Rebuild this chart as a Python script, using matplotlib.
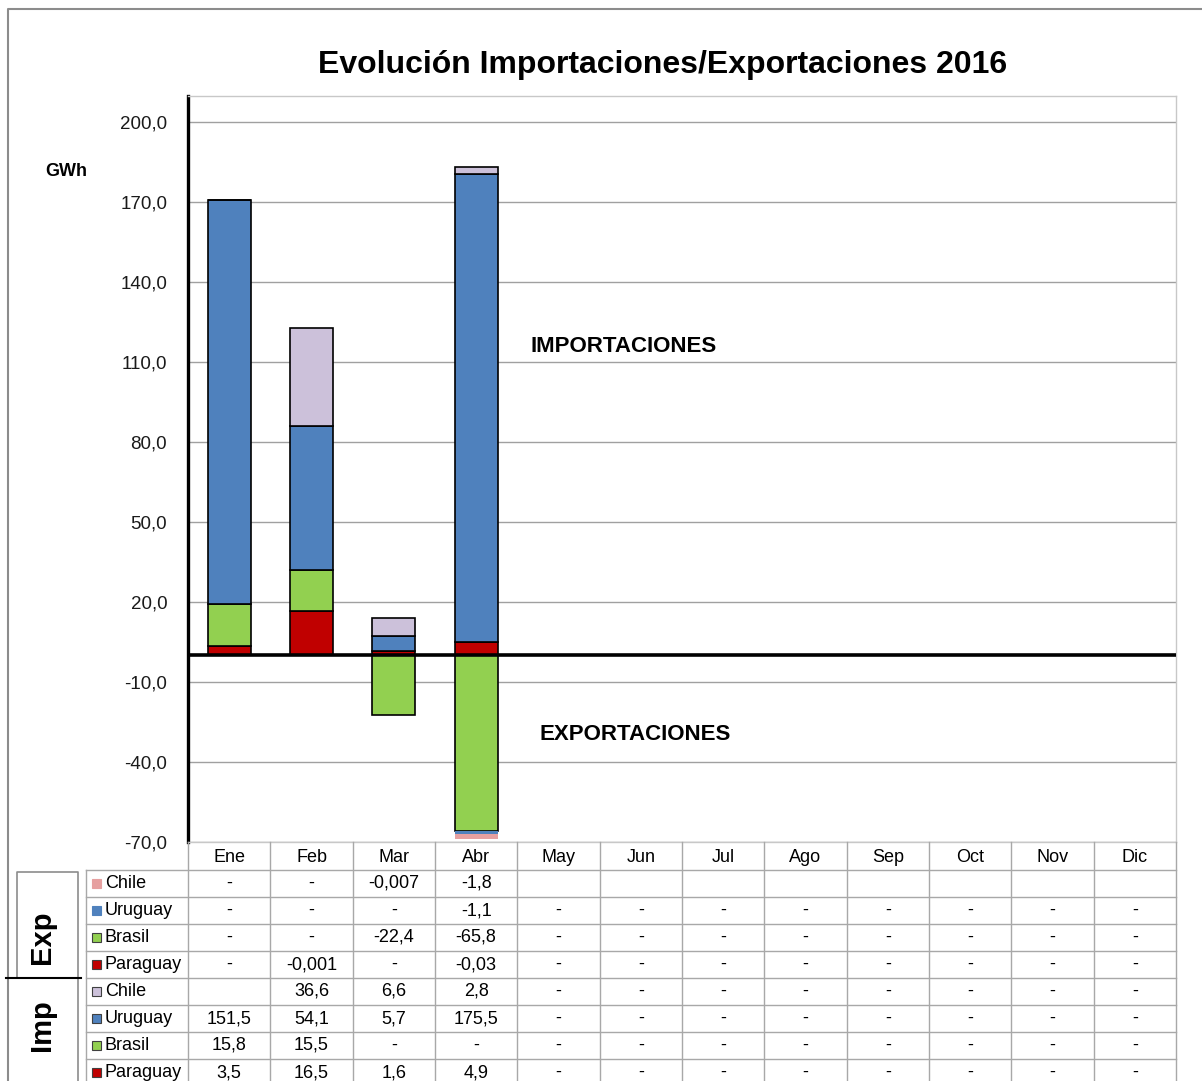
import matplotlib.pyplot as plt
import numpy as np

plt.rcParams['font.family'] = ['Liberation Sans', 'DejaVu Sans']

# datos (GWh)
meses = ["Ene", "Feb", "Mar", "Abr", "May", "Jun", "Jul", "Ago", "Sep", "Oct", "Nov", "Dic"]

# importaciones  (None = celda vacía, 0 = "-")
imp_paraguay = [3.5, 16.5, 1.6, 4.9, 0, 0, 0, 0, 0, 0, 0, 0]
imp_brasil = [15.8, 15.5, 0, 0, 0, 0, 0, 0, 0, 0, 0, 0]
imp_uruguay = [151.5, 54.1, 5.7, 175.5, 0, 0, 0, 0, 0, 0, 0, 0]
imp_chile = [None, 36.6, 6.6, 2.8, 0, 0, 0, 0, 0, 0, 0, 0]

# exportaciones
exp_paraguay = [0, -0.001, 0, -0.03, 0, 0, 0, 0, 0, 0, 0, 0]
exp_brasil = [0, 0, -22.4, -65.8, 0, 0, 0, 0, 0, 0, 0, 0]
exp_uruguay = [0, 0, 0, -1.1, 0, 0, 0, 0, 0, 0, 0, 0]
exp_chile = [0, 0, -0.007, -1.8, None, None, None, None, None, None, None, None]

# colores
c_par = "#C00000"
c_bra = "#92D050"
c_uru = "#4F81BD"
c_chi_imp = "#CCC1DA"
c_chi_exp = "#E6A0A0"

W, H = 1202, 1081
fig = plt.figure(figsize=(W / 100, H / 100), dpi=100)

# área del gráfico en pixeles
px_l, px_r, px_t, px_b = 188, 1176, 96, 842
ax = fig.add_axes([px_l / W, (H - px_b) / H, (px_r - px_l) / W, (px_b - px_t) / H])


def num(lst):
    return np.array([0 if v is None else v for v in lst], dtype=float)


x = np.arange(len(meses))
bw = 0.52
edge = dict(edgecolor="black", linewidth=1.2)

# importaciones apiladas hacia arriba
base = np.zeros(len(meses))
for vals, col in [(imp_paraguay, c_par), (imp_brasil, c_bra), (imp_uruguay, c_uru), (imp_chile, c_chi_imp)]:
    v = num(vals)
    ax.bar(x, v, bw, bottom=base, color=col, zorder=3, **edge)
    base += v

# exportaciones apiladas hacia abajo
base = np.zeros(len(meses))
for vals, col, e in [(exp_paraguay, c_par, True), (exp_brasil, c_bra, True),
                     (exp_uruguay, c_uru, False), (exp_chile, c_chi_exp, False)]:
    v = num(vals)
    if e:
        ax.bar(x, v, bw, bottom=base, color=col, zorder=3, **edge)
    else:
        ax.bar(x, v, bw, bottom=base, color=col, zorder=3, linewidth=0)
    base += v

ticks = np.arange(-70, 201, 30)
ax.set_xlim(-0.5, 11.5)
ax.set_ylim(-70, 209.75)
ax.set_yticks(ticks)
ax.set_yticklabels([f"{t:.1f}".replace(".", ",") for t in ticks], fontsize=13.5, color="#1a1a1a")
ax.tick_params(axis="y", length=0, pad=15)
ax.set_xticks([])
ax.grid(axis="y", color="#A0A0A0", linewidth=1, zorder=0)
ax.axhline(0, color="black", linewidth=2.6, zorder=4)
for s in ["top", "right", "bottom"]:
    ax.spines[s].set_color("#C8C8C8")
    ax.spines[s].set_linewidth(1)
ax.spines["left"].set_color("black")
ax.spines["left"].set_linewidth(2.4)

# capa superior en pixeles para tabla y textos
ov = fig.add_axes([0, 0, 1, 1], zorder=5)
ov.set_xlim(0, W)
ov.set_ylim(H, 0)
ov.axis("off")

# marco exterior
ov.plot([8, 8, W], [H, 9, 9], color="#8C8C8C", linewidth=1.5)

ov.text(663, 65, "Evolución Importaciones/Exportaciones 2016", ha="center", va="center",
        fontsize=23, fontweight="bold")
ov.text(66, 172, "GWh", ha="center", va="center", fontsize=13, fontweight="bold")
ov.text(624, 347, "IMPORTACIONES", ha="center", va="center", fontsize=16, fontweight="bold")
ov.text(635, 735, "EXPORTACIONES", ha="center", va="center", fontsize=16, fontweight="bold")

# tabla de datos
grid_c = "#A8A8A8"
fs = 13
col_w = (px_r - px_l) / 12
row_h = 27
hdr_t, hdr_b = 842, 870
rows = [("Chile", exp_chile, c_chi_exp, False), ("Uruguay", exp_uruguay, c_uru, False),
        ("Brasil", exp_brasil, c_bra, True), ("Paraguay", exp_paraguay, c_par, True),
        ("Chile", imp_chile, c_chi_imp, True), ("Uruguay", imp_uruguay, c_uru, True),
        ("Brasil", imp_brasil, c_bra, True), ("Paraguay", imp_paraguay, c_par, True)]

for i in range(13):
    xx = px_l + i * col_w
    ov.plot([xx, xx], [hdr_t, H], color=grid_c, linewidth=1)
for i, m in enumerate(meses):
    ov.text(px_l + (i + 0.5) * col_w, (hdr_t + hdr_b) / 2 + 1, m, ha="center", va="center", fontsize=fs)

ov.plot([86, 86], [hdr_b, H], color=grid_c, linewidth=1)
for r in range(len(rows) + 1):
    yy = hdr_b + r * row_h
    ov.plot([86, px_r], [yy, yy], color=grid_c, linewidth=1)


def fmt(v):
    if v is None:
        return ""
    if v == 0:
        return "-"
    return f"{v:g}".replace(".", ",")


for r, (name, vals, col, outline) in enumerate(rows):
    yc = hdr_b + (r + 0.5) * row_h
    ov.add_patch(plt.Rectangle((92, yc - 4.5), 9, 9, facecolor=col,
                               edgecolor="#404040" if outline else col, linewidth=0.8))
    ov.text(105, yc, name, ha="left", va="center", fontsize=fs)
    for i, v in enumerate(vals):
        ov.text(px_l + (i + 0.5) * col_w, yc, fmt(v), ha="center", va="center", fontsize=fs)

# cajas Exp / Imp
ov.plot([17, 17, 78, 78], [978, 872, 872, 978], color="#8C8C8C", linewidth=1.2)
ov.plot([78, 78], [978, H], color="#8C8C8C", linewidth=1.2)
ov.plot([6, 81], [978, 978], color="black", linewidth=1.5)
ov.text(42, 937, "Exp", rotation=90, ha="center", va="center", fontsize=21, fontweight="bold")
ov.text(42, 1025, "Imp", rotation=90, ha="center", va="center", fontsize=21, fontweight="bold")

fig.savefig("out.png", dpi=100)
